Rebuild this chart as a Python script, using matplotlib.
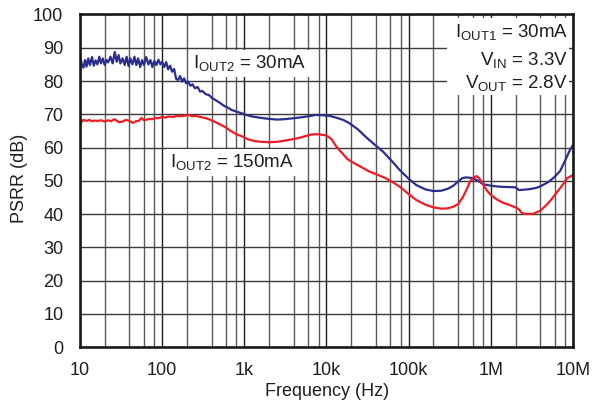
import matplotlib
matplotlib.use("Agg")
import matplotlib.pyplot as plt
from matplotlib.patches import Rectangle
from matplotlib.ticker import FixedLocator, NullFormatter

# PSRR vs frequency, two load cases on the second output
BLUE_FREQ = [
    10, 10.5, 11, 11.5, 12, 12.6, 13.2, 14, 14.7, 15.5, 16.3, 17.2, 18, 19, 20,
    21, 22, 23.5, 25, 26.5, 28, 29.5, 31, 33, 35, 37, 39, 41, 43.5, 46, 48.5,
    51, 54, 57, 60, 64, 68, 72, 76, 80, 85, 90, 95, 100, 106, 112, 118, 125,
    132, 140, 148, 156, 165, 175, 185, 196, 208, 220, 235, 250, 270, 290, 310,
    340, 370, 400, 450, 500, 560, 630, 700, 800, 900, 1000, 1200, 1500, 2000,
    2500, 3000, 4000, 5000, 6000, 7500, 9000, 11000, 13000, 16000, 19000,
    24000, 30000, 38000, 49000, 62000, 78000, 100000, 124000, 160000, 200000,
    250000, 300000, 350000, 400000, 450000, 500000, 600000, 700000, 800000,
    1000000, 1300000, 1700000, 2000000, 2200000, 2500000, 3000000, 3500000,
    4000000, 5000000, 6000000, 7000000, 8000000, 9000000, 10000000,
]
BLUE_DB = [
    88.0, 85.0, 84.0, 86.3, 84.3, 86.8, 84.8, 87.2, 84.6, 86.2, 85.0, 87.3,
    85.3, 86.8, 84.8, 86.3, 85.6, 87.3, 85.3, 88.7, 85.8, 87.8, 85.3, 86.8,
    84.8, 87.3, 84.5, 86.8, 85.0, 87.3, 84.8, 86.8, 84.2, 86.3, 84.8, 87.2,
    85.0, 86.3, 84.2, 86.0, 84.8, 86.4, 85.0, 85.8, 84.2, 85.7, 83.5, 84.6,
    82.8, 83.6, 80.6, 80.3, 81.5, 79.8, 80.8, 79.3, 79.8, 78.6, 79.0, 77.8,
    78.2, 76.8, 77.0, 76.0, 75.8, 75.0, 74.2, 73.5, 72.6, 72.0, 71.3, 70.8,
    70.4, 70.0, 69.4, 69.0, 68.6, 68.4, 68.5, 68.8, 69.1, 69.4, 69.8, 69.7,
    69.5, 69.0, 68.3, 67.3, 65.5, 63.2, 61.0, 58.7, 56.0, 53.2, 50.6, 48.7,
    47.4, 46.9, 47.0, 47.6, 48.5, 49.8, 50.8, 51.0, 50.8, 50.0, 49.0, 48.5,
    48.2, 48.1, 48.0, 47.2, 47.3, 47.5, 47.8, 48.3, 49.6, 51.2, 53.0, 56.0,
    58.8, 60.8,
]

RED_FREQ = [
    10, 10.5, 11, 12, 13, 14, 15, 16.5, 18, 20, 22, 24, 26, 28, 30, 33, 36,
    40, 44, 48, 52, 56, 60, 65, 70, 76, 82, 90, 100, 110, 120, 135, 150, 170,
    190, 210, 230, 260, 290, 330, 380, 430, 500, 580, 680, 800, 950, 1100,
    1300, 1600, 2000, 2500, 3000, 3500, 4500, 5500, 6500, 7500, 8500, 10000,
    11500, 13000, 15000, 18000, 22000, 27000, 33000, 40000, 50000, 60000,
    78000, 100000, 124000, 160000, 200000, 250000, 300000, 350000, 400000,
    450000, 500000, 560000, 620000, 670000, 720000, 800000, 900000, 1000000,
    1200000, 1400000, 1700000, 2000000, 2200000, 2400000, 2800000, 3300000,
    4000000, 4800000, 5500000, 6500000, 7500000, 8500000, 10000000,
]
RED_DB = [
    66.5, 67.8, 68.3, 68.0, 68.3, 67.9, 68.1, 68.0, 68.2, 67.8, 68.2, 67.9,
    68.5, 68.1, 67.6, 67.8, 68.3, 68.0, 67.4, 67.9, 68.0, 68.9, 68.2, 68.4,
    68.6, 68.5, 68.9, 68.8, 69.2, 69.0, 69.3, 69.2, 69.5, 69.4, 69.6, 69.8,
    69.4, 69.5, 69.2, 68.9, 68.4, 67.8, 67.0, 66.2, 65.0, 64.0, 63.3, 62.5,
    62.0, 61.7, 61.6, 61.7, 62.0, 62.3, 62.8, 63.4, 63.9, 64.0, 63.9, 63.6,
    62.5, 60.5, 58.7, 56.5, 55.2, 54.0, 52.8, 52.0, 51.0, 50.0, 48.2, 46.0,
    44.2, 42.8, 42.0, 41.6, 41.7, 42.2, 43.0, 44.8, 47.0, 49.8, 51.0, 51.4,
    50.8, 49.0, 47.0, 45.7, 44.3, 43.4, 42.7, 42.0, 41.4, 40.2, 40.0, 40.1,
    41.0, 42.8, 44.5, 46.8, 48.8, 50.8, 51.7,
]

X_TICKS = [1e1, 1e2, 1e3, 1e4, 1e5, 1e6, 1e7]
X_TICK_LABELS = ["10", "100", "1k", "10k", "100k", "1M", "10M"]
Y_TICKS = list(range(0, 101, 10))

BLUE = "#2b2e8c"
RED = "#ee1d25"
INK = "#1e1e1e"
FONT = "Liberation Sans"

plt.rcParams["font.family"] = FONT
plt.rcParams["mathtext.fontset"] = "custom"
plt.rcParams["mathtext.rm"] = FONT
plt.rcParams["mathtext.default"] = "regular"


def main() -> None:
    fig = plt.figure(figsize=(5.92, 4.05), dpi=100, facecolor="white")
    ax = fig.add_axes([0.1351, 0.1432, 0.8328, 0.8210])

    ax.plot(BLUE_FREQ, BLUE_DB, color=BLUE, lw=1.6, zorder=4)
    ax.plot(RED_FREQ, RED_DB, color=RED, lw=1.6, zorder=4)

    ax.set_xscale("log")
    ax.set_xlim(10, 1e7)
    ax.set_ylim(0, 100)
    ax.set_xticks(X_TICKS)
    ax.set_xticklabels(X_TICK_LABELS)
    minor = [m * d for d in X_TICKS[:-1] for m in (2, 4, 6, 8)]
    ax.xaxis.set_minor_locator(FixedLocator(minor))
    ax.xaxis.set_minor_formatter(NullFormatter())
    ax.set_yticks(Y_TICKS)

    ax.set_axisbelow(True)
    ax.grid(which="major", axis="x", color="#1e1e1e", lw=1.0)
    ax.grid(which="minor", axis="x", color="#5a5a5a", lw=1.0)
    ax.grid(which="major", axis="y", color="#3a3a3a", lw=1.0)

    ax.tick_params(which="both", length=0, labelsize=13, colors=INK)
    ax.tick_params(axis="x", pad=11)
    ax.tick_params(axis="y", pad=12)
    for s in ax.spines.values():
        s.set_linewidth(1.9)
        s.set_color("#1a1a1a")
        s.set_zorder(6)

    box = dict(facecolor="white", edgecolor="none", pad=2.5)
    ax.text(0.229, 0.838, r"I$_{OUT2}$ = 30mA", transform=ax.transAxes,
            fontsize=13.5, ha="left", va="baseline", color=INK,
            bbox=box, zorder=3)
    ax.text(0.1826, 0.540, r"I$_{OUT2}$ = 150mA", transform=ax.transAxes,
            fontsize=13.5, ha="left", va="baseline", color=INK,
            bbox=box, zorder=3)

    ax.add_patch(Rectangle((0.745, 0.758), 0.247, 0.231, transform=ax.transAxes,
                           facecolor="white", edgecolor="none", zorder=2.5))
    cond = [
        (0.933, r"I$_{OUT1}$ = 30mA"),
        (0.848, r"V$_{IN}$ = 3.3V"),
        (0.778, r"V$_{OUT}$ = 2.8V"),
    ]
    for y, txt in cond:
        ax.text(0.990, y, txt, transform=ax.transAxes, fontsize=13.5,
                ha="right", va="baseline", color=INK, zorder=3)

    fig.text(327 / 592, 1 - 392 / 405, "Frequency (Hz)", fontsize=13,
             ha="center", va="center", color=INK)
    fig.text(20 / 592, 1 - 178 / 405, "PSRR (dB)", fontsize=13, rotation=90,
             ha="center", va="center", color=INK)

    fig.savefig("out.png", dpi=100)
    plt.close(fig)


if __name__ == "__main__":
    main()
